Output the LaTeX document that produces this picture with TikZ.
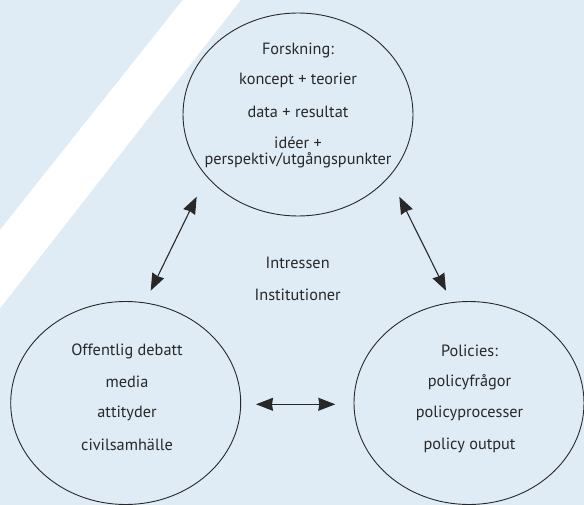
\documentclass[tikz,border=0pt]{standalone}
\usepackage{fontspec}
\setmainfont{PT Sans}
\usetikzlibrary{arrows.meta,shapes.geometric}
\definecolor{bgblue}{RGB}{224,236,245}
\definecolor{ink}{RGB}{40,40,40}
\tikzset{
	blob/.style={ellipse, draw=ink, line width=0.9pt, minimum width=230pt, minimum height=203pt, inner sep=0pt},
	txt/.style={text=ink, font=\fontsize{16.3}{15.6}\selectfont, align=center, inner sep=0pt},
	dubbel/.style={{Stealth[length=17pt,width=13pt,inset=1pt]}-{Stealth[length=17pt,width=13pt,inset=1pt]}, line width=1.1pt, color=ink}
}

\begin{document}
\begin{tikzpicture}[x=1pt, y=-1pt]
		%%%%% START %%%%%
		
		\fill[bgblue] (0, 0) rectangle (584, 505);
		\useasboundingbox (0, 0) rectangle (584, 505);
		\fill[white] (182.7, 0) -- (240.7, 0) -- (0, 308.3) -- (0, 230) -- cycle;
		
		\node[blob] (forskning) at (298, 114.5) {};
		\node[txt] (fo1) at (298, 50) {Forskning:};
		\node[txt] (fo2) at (298, 80.5) {koncept + teorier};
		\node[txt] (fo3) at (298, 111.5) {data + resultat};
		\node[txt] (fo4) at (298, 152.5) {idéer +\\perspektiv/utgångspunkter};
		
		\node[blob] (debatt) at (125.7, 403) {};
		\node[txt] (de1) at (127, 351.5) {Offentlig debatt};
		\node[txt] (de2) at (127, 382) {media};
		\node[txt] (de3) at (127, 413.5) {attityder};
		\node[txt] (de4) at (127, 445) {civilsamhälle};
		
		\node[blob] (policies) at (469, 403) {};
		\node[txt] (po1) at (469.5, 351) {Policies:};
		\node[txt] (po2) at (469.5, 382) {policyfrågor};
		\node[txt] (po3) at (469.5, 413.5) {policyprocesser};
		\node[txt] (po4) at (469.5, 445) {policy output};
		
		\node[txt] (intressen) at (297.7, 263) {Intressen};
		\node[txt] (institutioner) at (297.7, 295) {Institutioner};
		
		\coordinate (fo-v) at (196.7, 196.7);
		\coordinate (fo-h) at (399.3, 196.7);
		\coordinate (de-u) at (150.7, 290.7);
		\coordinate (de-h) at (256, 404.3);
		\coordinate (po-u) at (446, 290.7);
		\coordinate (po-v) at (335.3, 404.3);
		
		\draw[dubbel] (fo-v) -- (de-u);
		\draw[dubbel] (fo-h) -- (po-u);
		\draw[dubbel] (de-h) -- (po-v);
		
		%%%%% END %%%%%
	\end{tikzpicture}
\end{document}
